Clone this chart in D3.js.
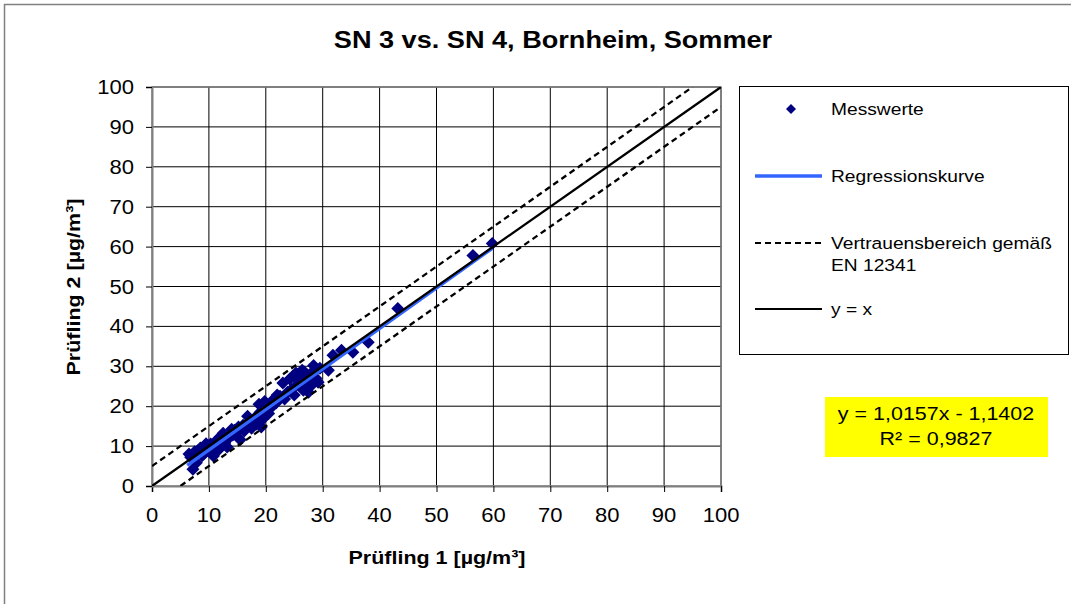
<!DOCTYPE html>
<html><head><meta charset="utf-8">
<script src="https://cdn.jsdelivr.net/npm/d3@7"></script>
<style>body{margin:0;background:#fff}svg{display:block}text{font-family:"Liberation Sans",Arial,sans-serif}</style>
</head><body>
<script>
// Data
const measX = [6.5,6.8,7.2,7.8,8.0,8.5,8.8,9.2,9.8,10.3,10.8,11.0,11.4,11.8,12.0,12.5,12.8,13.2,13.5,14.0,14.2,14.8,15.2,15.5,16.0,16.2,16.8,17.2,17.5,18.0,18.3,18.8,19.0,19.2,19.5,19.8,20.2,20.5,20.8,21.2,21.8,22.5,23.0,23.3,23.8,24.2,24.5,25.0,25.3,25.6,26.0,26.4,26.6,27.0,27.5,27.8,28.0,28.4,28.8,29.2,29.5,31.0,31.8,33.3,35.3,38.0,43.2,56.4,59.8,7.5,9.5,12.2,14.5,21.0,22.0,24.8,26.8];
const measY = [8.0,7.2,4.2,5.8,8.8,9.5,7.6,8.2,9.8,10.5,7.5,8.8,11.5,9.2,12.3,13.2,10.8,9.8,12.0,14.2,12.8,13.5,14.8,11.6,15.2,13.8,17.5,16.0,14.5,17.0,15.5,20.5,18.5,14.8,16.8,21.2,20.3,18.2,19.5,21.5,20.8,22.5,25.8,21.8,23.5,26.8,24.2,22.8,28.3,25.5,27.0,29.0,24.0,26.2,23.5,28.0,25.2,30.2,27.0,26.0,29.5,29.0,32.8,34.0,33.5,36.0,44.5,57.8,60.8,8.6,10.6,11.0,14.0,20.0,22.8,27.5,28.6];
const xTicks = [0,10,20,30,40,50,60,70,80,90,100];
const yTicks = [0,10,20,30,40,50,60,70,80,90,100];
const regSlope = 1.0157, regIntercept = -1.1402;
const regRange = [6.2, 59.8];
const bandOffset = 5;
const legendLabels = ["Messwerte","Regressionskurve","Vertrauensbereich gemäß","EN 12341","y = x"];
const eqLines = ["y = 1,0157x - 1,1402","R² = 0,9827"];

const W=1071,H=604, SX=1.13;
const svg=d3.select("body").append("svg").attr("width",W).attr("height",H);
svg.append("rect").attr("x",0).attr("y",0).attr("width",W).attr("height",H).attr("fill","#fff");
svg.append("rect").attr("x",4.5).attr("y",4.5).attr("width",1100).attr("height",700).attr("fill","none").attr("stroke","#808080").attr("stroke-width",1.5);

const x=d3.scaleLinear().domain([0,100]).range([152,721]);
const y=d3.scaleLinear().domain([0,100]).range([486,87]);

function txt(g,px,py,s,size,weight,anchor,rot){
  return g.append("text").attr("transform",`translate(${px},${py})`+(rot?` rotate(${rot})`:"")+` scale(${SX},1)`)
    .attr("font-size",size).attr("font-weight",weight||"normal").attr("text-anchor",anchor||"start").attr("fill","#000").text(s);
}

// gridlines
const grid=svg.append("g");
grid.selectAll("line.v").data(xTicks.slice(1)).join("line").attr("x1",d=>x(d)).attr("x2",d=>x(d)).attr("y1",y(0)).attr("y2",y(100)).attr("stroke","#000").attr("stroke-width",1);
grid.selectAll("line.h").data(yTicks.slice(1)).join("line").attr("x1",x(0)).attr("x2",x(100)).attr("y1",d=>y(d)).attr("y2",d=>y(d)).attr("stroke","#000").attr("stroke-width",1);
svg.append("rect").attr("x",x(0)).attr("y",y(100)).attr("width",x(100)-x(0)).attr("height",y(0)-y(100)).attr("fill","none").attr("stroke","#808080").attr("stroke-width",1.5);

// axes
const xa=svg.append("g").attr("transform",`translate(0,${y(0)})`).call(d3.axisBottom(x).tickValues(xTicks).tickSize(6).tickFormat(""));
const ya=svg.append("g").attr("transform",`translate(${x(0)},0)`).call(d3.axisLeft(y).tickValues(yTicks).tickSize(6).tickFormat(""));
[xa,ya].forEach(a=>{a.select(".domain").attr("stroke","#808080").attr("stroke-width",2);a.selectAll(".tick line").attr("stroke","#000");});
xTicks.forEach(v=>txt(svg,x(v),522,String(v),19.5,"normal","middle"));
yTicks.forEach(v=>txt(svg,134,y(v)+7,String(v),19.5,"normal","end"));

// points
svg.append("clipPath").attr("id","pc").append("rect").attr("x",x(0)).attr("y",y(100)).attr("width",x(100)-x(0)).attr("height",y(0)-y(100));
const pts=measX.map((v,i)=>[v,measY[i]]);
const dia=s=>`M0,${-s}L${s},0L0,${s}L${-s},0Z`;
svg.append("g").selectAll("path").data(pts).join("path").attr("d",dia(6.5)).attr("transform",d=>`translate(${x(d[0])},${y(d[1])})`).attr("fill","#000080");

const lg=svg.append("g").attr("clip-path","url(#pc)");
const line=d3.line().x(d=>x(d[0])).y(d=>y(d[1]));
lg.append("path").attr("d",line(regRange.map(v=>[v,regSlope*v+regIntercept]))).attr("stroke","#3366FF").attr("stroke-width",3.5).attr("fill","none");
lg.append("path").attr("d",line([[0,0],[100,100]])).attr("stroke","#000").attr("stroke-width",2.3).attr("fill","none");
lg.append("path").attr("d",line([[0,bandOffset],[100-bandOffset,100]])).attr("stroke","#000").attr("stroke-width",2.3).attr("stroke-dasharray","6,4").attr("fill","none");
lg.append("path").attr("d",line([[bandOffset,0],[100,100-bandOffset]])).attr("stroke","#000").attr("stroke-width",2.3).attr("stroke-dasharray","6,4").attr("fill","none");

// title & axis titles
txt(svg,553,48,"SN 3 vs. SN 4, Bornheim, Sommer",24,"bold","middle");
txt(svg,437,564,"Prüfling 1 [µg/m³]",19,"bold","middle");
txt(svg,80,287,"Prüfling 2 [µg/m³]",19,"bold","middle",-90);

// legend
const L=svg.append("g");
L.append("rect").attr("x",739.5).attr("y",86.5).attr("width",329).attr("height",268).attr("fill","#fff").attr("stroke","#000").attr("stroke-width",1);
L.append("path").attr("d",dia(5)).attr("transform","translate(791,109)").attr("fill","#000080");
txt(L,831,115,legendLabels[0],17);
L.append("line").attr("x1",755).attr("x2",822).attr("y1",176).attr("y2",176).attr("stroke","#3366FF").attr("stroke-width",3.5);
txt(L,831,182,legendLabels[1],17);
L.append("line").attr("x1",755).attr("x2",822).attr("y1",243).attr("y2",243).attr("stroke","#000").attr("stroke-width",2).attr("stroke-dasharray","6,4");
txt(L,831,249,legendLabels[2],17);
txt(L,831,271,legendLabels[3],17);
L.append("line").attr("x1",755).attr("x2",822).attr("y1",309).attr("y2",309).attr("stroke","#000").attr("stroke-width",2);
txt(L,831,315,legendLabels[4],17);

// equation box
svg.append("rect").attr("x",825).attr("y",397).attr("width",223).attr("height",60).attr("fill","#FFFF00");
txt(svg,936,420,eqLines[0],19,"normal","middle");
txt(svg,936,445,eqLines[1],19,"normal","middle");
</script>
</body></html>
